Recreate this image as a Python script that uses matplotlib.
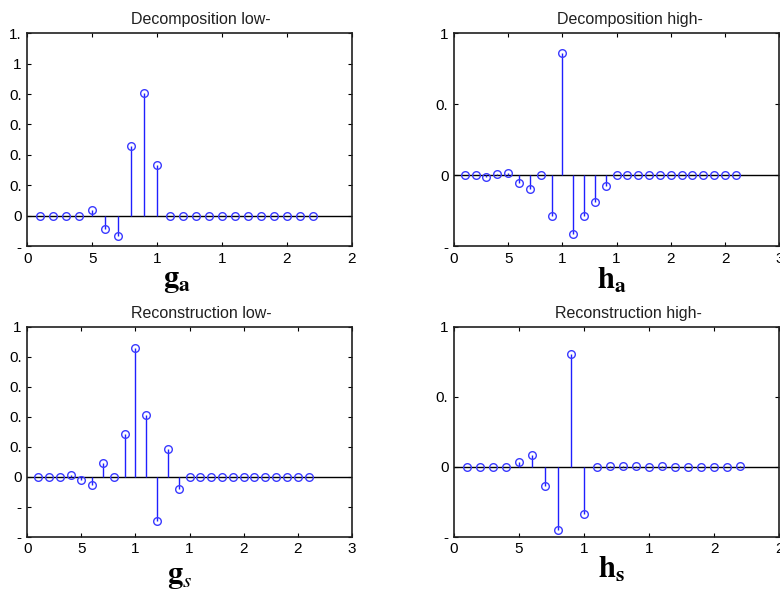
import matplotlib
matplotlib.use("Agg")
import matplotlib.pyplot as plt
import numpy as np

plt.rcParams["font.family"] = ["Liberation Sans", "DejaVu Sans"]
plt.rcParams["mathtext.fontset"] = "stix"

# ---------------------------------------------------------------------------
# filter coefficients
# ---------------------------------------------------------------------------
GA = [0, 0, 0, 0, 0.035, -0.085, -0.135, 0.46, 0.805, 0.335,
      0, 0, 0, 0, 0, 0, 0, 0, 0, 0, 0, 0]
HA = [0, 0, -0.01, 0.01, 0.017, -0.055, -0.095, 0, -0.285, 0.86,
      -0.415, -0.29, -0.19, -0.078,
      0, 0, 0, 0, 0, 0, 0, 0, 0, 0, 0, 0]
GS = [0, 0, 0, 0.011, -0.022, -0.055, 0.093, 0, 0.283, 0.861,
      0.412, -0.294, 0.184, -0.08,
      0, 0, 0, 0, 0, 0, 0, 0, 0, 0, 0, 0]
HS = [0, 0, 0, 0, 0.036, 0.083, -0.137, -0.453, 0.803, -0.334,
      0, 0.006, 0.006, 0.006, 0, 0.006, 0, 0, 0, 0, 0, 0.006]

TITLES = ["Decomposition low-", "Decomposition high-",
          "Reconstruction low-", "Reconstruction high-"]
NAMES = [r"$\mathbf{g}_{\mathbf{a}}$", r"$\mathbf{h}_{\mathbf{a}}$",
         r"$\mathbf{g}_{s}$", r"$\mathbf{h}_{\mathbf{s}}$"]

# x limits / y ticks and the clipped tick labels as they appear
XMAX = [25, 30, 30, 25]
YTICKS = [
    [-0.2, 0, 0.2, 0.4, 0.6, 0.8, 1.0, 1.2],
    [-0.5, 0, 0.5, 1.0],
    [-0.4, -0.2, 0, 0.2, 0.4, 0.6, 0.8, 1.0],
    [-0.5, 0, 0.5, 1.0],
]
YLABELS = [
    ["-", "0", "0.", "0.", "0.", "0.", "1", "1."],
    ["-", "0", "0.", "1"],
    ["-", "-", "0", "0.", "0.", "0.", "0.", "1"],
    ["-", "0", "0.", "1"],
]
XLABELS = {25: ["0", "5", "1", "1", "2", "2"],
           30: ["0", "5", "1", "1", "2", "2", "3"]}

# axes rectangles in figure fraction (left, bottom, width, height)
RECTS = [
    (0.035, 0.584, 0.416, 0.360),
    (0.582, 0.584, 0.417, 0.360),
    (0.035, 0.093, 0.416, 0.355),
    (0.582, 0.093, 0.417, 0.355),
]
TITLE_X = [201 / 780, 630 / 780, 201 / 780, 628 / 780]
NAME_POS = [(177 / 780, 1 - 287 / 592), (612 / 780, 1 - 289 / 592),
            (180 / 780, 1 - 583 / 592), (612 / 780, 1 - 578 / 592)]

fig = plt.figure(figsize=(7.8, 5.92), dpi=100)

for i, data in enumerate([GA, HA, GS, HS]):
    ax = fig.add_axes(RECTS[i])
    n = np.arange(1, len(data) + 1)
    markers, stems, base = ax.stem(n, data, linefmt="-", markerfmt="o", basefmt=" ")
    stems.set_color("#2020ff")
    stems.set_linewidth(1.0)
    markers.set_markerfacecolor("none")
    markers.set_markeredgecolor("#3a3aff")
    markers.set_markersize(5.5)
    markers.set_markeredgewidth(1.0)
    ax.axhline(0, color="black", linewidth=1.0, zorder=1)

    ax.set_xlim(0, XMAX[i])
    ax.set_xticks(np.arange(0, XMAX[i] + 1, 5))
    ax.set_xticklabels(XLABELS[XMAX[i]])
    ax.set_ylim(YTICKS[i][0], YTICKS[i][-1])
    ax.set_yticks(YTICKS[i])
    ax.set_yticklabels(YLABELS[i])
    ax.tick_params(direction="in", length=3, width=0.8, top=True, right=True,
                   labelsize=11, pad=4)
    for sp in ax.spines.values():
        sp.set_linewidth(1.2)
        sp.set_color("#202020")

    fig.text(TITLE_X[i], RECTS[i][1] + RECTS[i][3] + 0.01, TITLES[i],
             ha="center", va="bottom", fontsize=11.5, color="#202020")
    fig.text(NAME_POS[i][0], NAME_POS[i][1], NAMES[i], ha="center",
             va="baseline", fontsize=22)

fig.savefig("out.png", dpi=100, facecolor="white")
